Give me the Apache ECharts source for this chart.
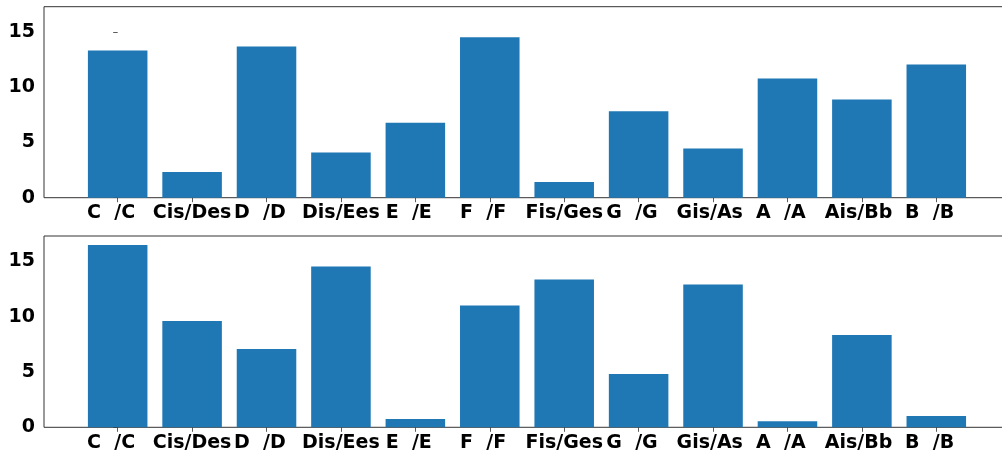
<!DOCTYPE html>
<html>
<head>
<meta charset="utf-8">
<script src="https://cdn.jsdelivr.net/npm/echarts@6/dist/echarts.min.js"></script>
<style>
  html, body { margin: 0; padding: 0; background: #fff; overflow: hidden; }
  /* the plot area runs a little past the right edge of the window */
  #chart { width: 1010px; height: 456px; }
</style>
</head>
<body>
<div id="chart"></div>
<script>
// Pitch-class names, one per bar position (padded to fixed width)
const categories = ['C  /C  ', 'Cis/Des', 'D  /D  ', 'Dis/Ees', 'E  /E  ', 'F  /F  ',
  'Fis/Ges', 'G  /G  ', 'Gis/As ', 'A  /A  ', 'Ais/Bb ', 'B  /B  '];

// Counts per pitch class, upper panel
const upperValues = [13.32, 2.32, 13.68, 4.10, 6.78, 14.52, 1.42, 7.83, 4.46, 10.79, 8.89, 12.05];
// Counts per pitch class, lower panel
const lowerValues = [16.47, 9.60, 7.07, 14.54, 0.75, 11.02, 13.37, 4.82, 12.92, 0.54, 8.34, 1.02];

// Y tick values shared by both panels
const yTicks = [0, 5, 10, 15];

const chart = echarts.init(document.getElementById('chart'), null, { renderer: 'canvas' });

const FONT = 'DejaVu Sans';
const FS = 19;
const X_MIN = -0.99, X_MAX = 11.99;
const Y_MAX = Math.max(...upperValues, ...lowerValues) * 1.05;
const GRID_LEFT = 44;
const PX_PER_UNIT = 74.42;
const plotWidth = (X_MAX - X_MIN) * PX_PER_UNIT;
const barWidth = 0.8 * PX_PER_UNIT;
const positions = categories.map((_, i) => i);
const TICK_LEN = 4.5;

function grid(top, height) {
  return {
    left: GRID_LEFT, width: plotWidth, top: top, height: height,
    show: true, borderColor: '#333', borderWidth: 1, backgroundColor: 'transparent',
    containLabel: false
  };
}

function xAxis(gridIndex) {
  return {
    type: 'value', gridIndex: gridIndex, min: X_MIN, max: X_MAX,
    axisLine: { show: false },
    splitLine: { show: false },
    axisPointer: { show: false },
    axisTick: { show: true, length: TICK_LEN, customValues: positions, lineStyle: { color: '#333', width: 0.8 } },
    axisLabel: {
      customValues: positions, margin: 6,
      formatter: v => categories[Math.round(v)],
      color: '#000', fontFamily: FONT, fontWeight: 'bold', fontSize: FS
    }
  };
}

function yAxis(gridIndex) {
  return {
    type: 'value', gridIndex: gridIndex, min: 0, max: Y_MAX,
    axisLine: { show: false },
    splitLine: { show: false },
    axisPointer: { show: false },
    axisTick: { show: true, length: TICK_LEN, customValues: yTicks, lineStyle: { color: '#333', width: 0.8 } },
    axisLabel: {
      customValues: yTicks, margin: 9,
      color: '#000', fontFamily: FONT, fontWeight: 'bold', fontSize: FS
    }
  };
}

function bars(values, idx) {
  return {
    type: 'bar', xAxisIndex: idx, yAxisIndex: idx,
    barWidth: barWidth,
    data: values.map((v, i) => [positions[i], v]),
    itemStyle: { color: '#1f77b4' },
    label: { show: false },
    silent: true, animation: false
  };
}

chart.setOption({
  animation: false,
  tooltip: { show: false },
  grid: [grid(6.7, 191), grid(236, 191.3)],
  xAxis: [xAxis(0), xAxis(1)],
  yAxis: [yAxis(0), yAxis(1)],
  series: [bars(upperValues, 0), bars(lowerValues, 1)]
});
</script>
</body>
</html>
